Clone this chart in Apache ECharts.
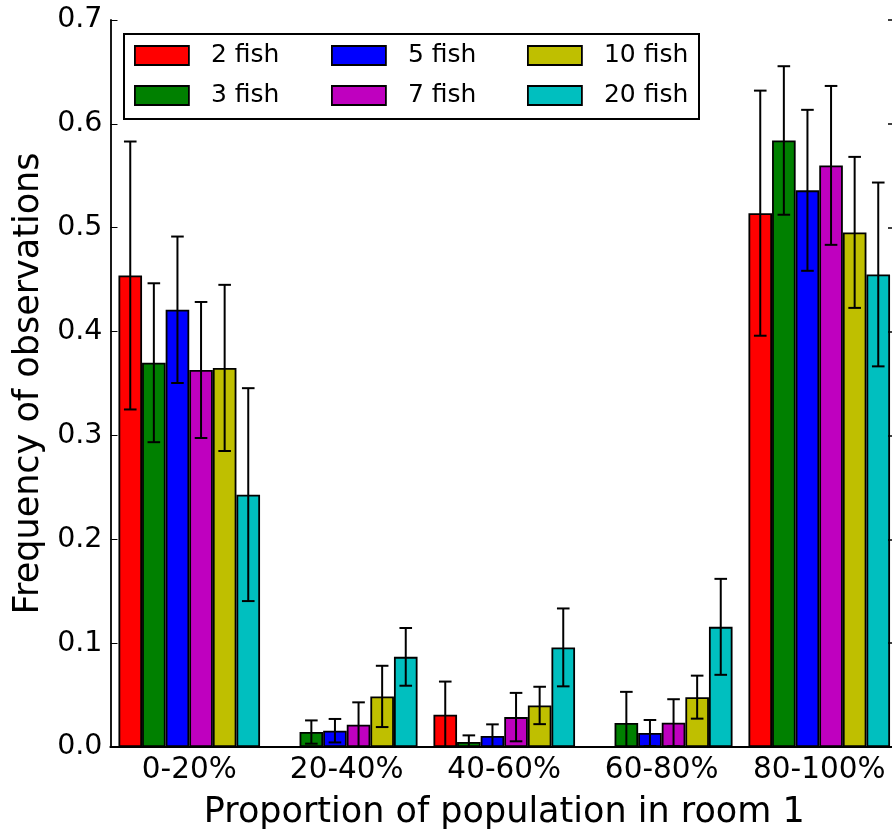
<!DOCTYPE html>
<html>
<head>
<meta charset="utf-8">
<script src="https://cdn.jsdelivr.net/npm/echarts@6/dist/echarts.min.js"></script>
<style>
html,body{margin:0;padding:0;background:#fff;overflow:hidden;}
#chart{width:900px;height:835px;}
</style>
</head>
<body>
<div id="chart"></div>
<script>
// ---- data ----
var categories = ['0-20%', '20-40%', '40-60%', '60-80%', '80-100%'];
var seriesNames = ['2 fish', '3 fish', '5 fish', '7 fish', '10 fish', '20 fish'];
var fish2  = [0.454, 0.000, 0.031, 0.000, 0.514];
var fish3  = [0.370, 0.0144, 0.0048, 0.0231, 0.584];
var fish5  = [0.421, 0.0157, 0.0106, 0.0135, 0.536];
var fish7  = [0.363, 0.0215, 0.0288, 0.0234, 0.560];
var fish10 = [0.365, 0.0487, 0.040, 0.048, 0.4955];
var fish20 = [0.243, 0.0868, 0.0959, 0.1157, 0.455];
var err2  = [0.129, 0.000, 0.032, 0.000, 0.118];
var err3  = [0.0765, 0.0112, 0.0064, 0.030, 0.0715];
var err5  = [0.0705, 0.0113, 0.0112, 0.0125, 0.0775];
var err7  = [0.0655, 0.0215, 0.0233, 0.0226, 0.0765];
var err10 = [0.080, 0.0295, 0.018, 0.0207, 0.0727];
var err20 = [0.1025, 0.0278, 0.0375, 0.0462, 0.0885];
var yTicks = [0, 0.1, 0.2, 0.3, 0.4, 0.5, 0.6, 0.7];

var values = [fish2, fish3, fish5, fish7, fish10, fish20];
var errors = [err2, err3, err5, err7, err10, err20];
var colors = ['#ff0000', '#008000', '#0000ff', '#bf00bf', '#bfbf00', '#00bfbf'];

var FONT = 'DejaVu Sans';
var BAR_W = 23.6;
var CAP = 6.3;

var series = [];
values.forEach(function (vals, j) {
  series.push({
    name: seriesNames[j],
    type: 'bar',
    xAxisIndex: 0, yAxisIndex: 0,
    data: vals,
    barWidth: BAR_W,
    barGap: '0%',
    itemStyle: { color: colors[j], borderColor: '#000', borderWidth: 1.8 },
    emphasis: { disabled: true },
    z: 2
  });
});
values.forEach(function (vals, j) {
  var data = vals.map(function (v, i) { return [i, v, errors[j][i]]; });
  series.push({
    name: seriesNames[j] + ' err',
    type: 'custom',
    xAxisIndex: 0, yAxisIndex: 0,
    data: data,
    z: 5,
    silent: true,
    renderItem: (function (jj) {
      return function (params, api) {
        var ci = api.value(0), v = api.value(1), e = api.value(2);
        if (!e) return null;
        var base = api.coord([ci, v]);
        var cx = base[0] + (jj - 2.5) * BAR_W;
        var lo = v - e;
        var yTop = api.coord([ci, v + e])[1];
        var yBot = api.coord([ci, Math.max(0, lo)])[1];
        var st = { stroke: '#000', lineWidth: 2 };
        var children = [
          { type: 'line', shape: { x1: cx, y1: yTop, x2: cx, y2: yBot }, style: st },
          { type: 'line', shape: { x1: cx - CAP, y1: yTop, x2: cx + CAP, y2: yTop }, style: st }
        ];
        if (lo >= 0) {
          children.push({ type: 'line', shape: { x1: cx - CAP, y1: yBot, x2: cx + CAP, y2: yBot }, style: st });
        }
        return { type: 'group', children: children };
      };
    })(j)
  });
});

function legendFor(names, left) {
  return {
    orient: 'vertical',
    left: left, top: 43,
    data: names.map(function (n) { return { name: n, icon: 'rect' }; }),
    itemWidth: 54, itemHeight: 19, itemGap: 15,
    padding: 0,
    selectedMode: false,
    itemStyle: { borderColor: '#000', borderWidth: 1.8 },
    textStyle: { fontFamily: FONT, fontSize: 25, color: '#000', lineHeight: 19, padding: [0, 0, 0, 17] }
  };
}

var chart = echarts.init(document.getElementById('chart'), null, { renderer: 'canvas' });
chart.setOption({
  animation: false,
  backgroundColor: '#fff',
  grid: { left: 110.5, top: 20, width: 787.5, height: 728, containLabel: false },
  legend: [
    legendFor(['2 fish', '3 fish'], 134),
    legendFor(['5 fish', '7 fish'], 331),
    legendFor(['10 fish', '20 fish'], 527)
  ],
  graphic: [{
    type: 'rect', left: 123, top: 33, z: -1,
    shape: { width: 575, height: 85 },
    style: { fill: '#fff', stroke: '#000', lineWidth: 2 }
  }],
  xAxis: [{
    type: 'category', data: categories, position: 'bottom',
    axisLine: { lineStyle: { color: '#000', width: 1.8 } },
    axisTick: { inside: true, alignWithLabel: true, length: 7, lineStyle: { color: '#000' } },
    axisLabel: { fontFamily: FONT, fontSize: 29.5, color: '#000', margin: 8, interval: 0 },
    name: 'Proportion of population in room 1',
    nameLocation: 'middle', nameGap: 48,
    nameTextStyle: { fontFamily: FONT, fontSize: 35, color: '#000' },
    splitLine: { show: false }
  }, {
    type: 'category', data: categories, position: 'top',
    axisLine: { lineStyle: { color: '#000', width: 1.8 } },
    axisTick: { inside: true, alignWithLabel: true, length: 7, lineStyle: { color: '#000' } },
    axisLabel: { show: false },
    splitLine: { show: false }
  }],
  yAxis: [{
    type: 'value', min: 0, max: 0.7, interval: 0.1, position: 'left',
    axisLine: { show: true, lineStyle: { color: '#000', width: 1.8 } },
    axisTick: { show: true, inside: true, length: 7, lineStyle: { color: '#000' } },
    axisLabel: { fontFamily: FONT, fontSize: 28.5, color: '#000', margin: 8,
      formatter: function (v) { return (Math.round(v * 10) / 10).toFixed(1); } },
    splitLine: { show: false },
    name: 'Frequency of observations',
    nameLocation: 'middle', nameGap: 60, nameRotate: 90,
    nameTextStyle: { fontFamily: FONT, fontSize: 35, color: '#000' }
  }, {
    type: 'value', min: 0, max: 0.7, interval: 0.1, position: 'right',
    z: 10,
    axisLine: { show: true, lineStyle: { color: '#000', width: 1.8 } },
    axisTick: { show: true, inside: true, length: 10, lineStyle: { color: '#000', width: 1.5 } },
    axisLabel: { show: false },
    splitLine: { show: false }
  }],
  series: series
});
</script>
</body>
</html>
